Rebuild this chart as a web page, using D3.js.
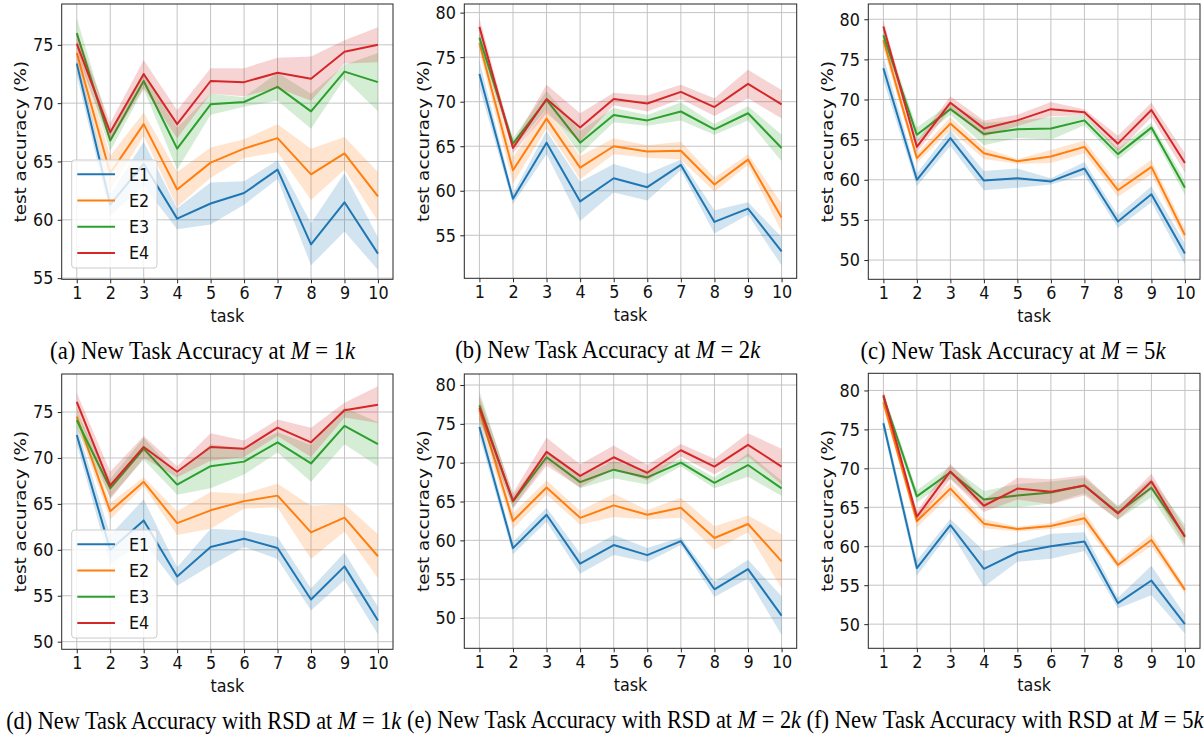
<!DOCTYPE html>
<html>
<head>
<meta charset="utf-8">
<script src="https://cdn.jsdelivr.net/npm/d3@7"></script>
<style>
  html, body { margin: 0; padding: 0; background: #fff; }
  svg { display: block; }
  .tall { transform-box: fill-box; transform-origin: center; transform: scaleY(1.13); }
</style>
</head>
<body>
<svg id="fig" width="1204" height="736"></svg>
<script>
// ---- data -------------------------------------------------------------
const tasks = [1, 2, 3, 4, 5, 6, 7, 8, 9, 10];
const seriesNames = ["E1", "E2", "E3", "E4"];
const seriesColors = ["#1f77b4", "#ff7f0e", "#2ca02c", "#d62728"];

// mean accuracy per task (rows: E1..E4) and half-width of the shaded band
const accA = [
  [73.4, 61.3, 64.8, 60.1, 61.4, 62.3, 64.3, 57.9, 61.5, 57.1],
  [74.3, 64.0, 68.2, 62.6, 64.9, 66.1, 67.0, 63.9, 65.7, 62.0],
  [76.0, 66.8, 71.9, 66.1, 69.9, 70.1, 71.4, 69.3, 72.7, 71.8],
  [75.1, 67.5, 72.5, 68.2, 71.9, 71.8, 72.6, 72.1, 74.4, 75.0]];
const sdA = [
  [1.0, 0.9, 1.9, 0.9, 1.8, 1.0, 0.8, 1.8, 2.5, 1.4],
  [0.8, 1.5, 1.0, 1.5, 1.3, 0.8, 1.2, 2.2, 1.4, 2.1],
  [1.3, 0.9, 0.7, 1.8, 0.9, 0.4, 1.2, 1.5, 0.6, 2.5],
  [1.0, 0.8, 1.2, 1.2, 1.1, 1.2, 1.3, 1.9, 1.0, 1.5]];

const accB = [
  [73.1, 59.1, 65.4, 58.8, 61.4, 60.4, 62.9, 56.5, 58.0, 53.2],
  [76.6, 62.3, 68.1, 62.6, 65.0, 64.4, 64.5, 60.7, 63.5, 57.0],
  [77.2, 65.3, 70.2, 65.4, 68.5, 67.9, 68.9, 66.9, 68.7, 64.8],
  [78.4, 64.8, 70.3, 67.1, 70.3, 69.8, 71.1, 69.4, 72.0, 69.7]];
const sdB = [
  [1.5, 0.6, 1.3, 2.2, 1.6, 1.5, 0.6, 1.3, 0.7, 1.6],
  [1.0, 1.5, 1.1, 1.3, 0.9, 0.7, 1.0, 0.8, 0.6, 1.6],
  [1.0, 0.6, 1.0, 1.3, 0.8, 0.6, 1.0, 0.6, 0.8, 1.5],
  [1.0, 0.6, 1.6, 1.6, 0.7, 0.9, 0.8, 1.0, 1.6, 1.6]];

const accC = [
  [73.9, 60.0, 65.2, 59.9, 60.2, 59.8, 61.4, 54.8, 58.2, 50.8],
  [77.4, 62.7, 67.0, 63.3, 62.3, 62.9, 64.1, 58.7, 61.6, 53.1],
  [78.0, 65.6, 68.8, 65.7, 66.3, 66.4, 67.4, 63.2, 66.5, 59.0],
  [79.1, 64.1, 69.6, 66.4, 67.4, 68.8, 68.4, 64.5, 68.7, 62.1]];
const sdC = [
  [1.5, 0.8, 1.0, 1.2, 1.2, 0.4, 0.8, 0.8, 1.0, 1.3],
  [1.0, 0.6, 0.8, 0.7, 0.3, 0.8, 0.8, 0.8, 0.9, 0.8],
  [0.8, 0.9, 0.7, 1.4, 1.1, 1.4, 0.6, 0.7, 0.6, 0.9],
  [0.8, 0.7, 0.8, 1.0, 0.7, 0.9, 0.4, 1.0, 0.9, 1.2]];

const accD = [
  [72.5, 60.0, 63.2, 57.1, 60.3, 61.2, 60.2, 54.6, 58.2, 52.3],
  [74.5, 64.2, 67.4, 62.9, 64.3, 65.3, 65.9, 61.9, 63.5, 59.3],
  [74.1, 66.7, 71.0, 67.1, 69.1, 69.6, 71.7, 69.4, 73.5, 71.5],
  [76.1, 67.0, 71.2, 68.5, 71.2, 71.0, 73.3, 71.7, 75.2, 75.8]];
const sdD = [
  [1.0, 1.6, 2.3, 1.0, 2.0, 0.9, 1.2, 1.2, 1.5, 1.5],
  [1.0, 0.9, 0.5, 1.3, 2.0, 0.8, 1.3, 2.9, 1.5, 2.4],
  [0.9, 1.0, 1.2, 1.1, 2.4, 1.4, 1.1, 2.0, 2.0, 2.4],
  [1.0, 1.5, 1.2, 0.6, 1.5, 0.9, 0.9, 1.6, 0.8, 2.0]];

const accE = [
  [74.6, 59.0, 63.3, 57.0, 59.4, 58.1, 59.9, 53.7, 56.3, 50.3],
  [76.8, 62.5, 66.8, 62.9, 64.5, 63.3, 64.2, 60.3, 62.1, 57.3],
  [77.4, 65.0, 70.7, 67.5, 69.1, 68.1, 70.0, 67.4, 69.7, 66.7],
  [77.1, 65.1, 71.4, 68.3, 70.7, 68.7, 71.6, 69.5, 72.3, 69.5]];
const sdE = [
  [1.2, 0.8, 0.9, 1.3, 1.3, 0.9, 0.5, 1.0, 1.2, 2.5],
  [1.5, 1.0, 0.9, 0.9, 1.5, 0.6, 1.3, 1.5, 1.1, 3.5],
  [1.8, 0.8, 0.6, 0.8, 1.1, 0.9, 0.5, 0.7, 1.5, 1.0],
  [1.5, 1.0, 1.8, 1.5, 1.5, 1.0, 0.8, 1.0, 1.5, 2.3]];

const accF = [
  [75.8, 57.2, 62.7, 57.1, 59.2, 60.0, 60.6, 52.7, 55.6, 50.0],
  [78.5, 63.2, 67.4, 62.9, 62.2, 62.6, 63.6, 57.6, 60.8, 54.4],
  [79.2, 66.4, 69.5, 66.0, 66.5, 66.9, 67.8, 64.3, 67.5, 61.3],
  [79.4, 63.8, 69.6, 65.2, 67.4, 67.0, 67.8, 64.2, 68.3, 61.2]];
const sdF = [
  [0.8, 1.0, 0.8, 2.3, 1.2, 1.6, 1.2, 0.7, 1.9, 1.2],
  [0.6, 0.8, 0.8, 0.6, 0.3, 0.4, 0.8, 0.5, 0.8, 0.5],
  [0.6, 0.8, 0.8, 1.1, 1.5, 1.4, 1.0, 0.9, 1.2, 1.5],
  [0.6, 0.7, 1.0, 0.8, 1.4, 1.6, 1.3, 0.8, 1.0, 1.0]];

// y tick labels per panel
const yTicksA = [55, 60, 65, 70, 75];
const yTicksB = [55, 60, 65, 70, 75, 80];
const yTicksC = [50, 55, 60, 65, 70, 75, 80];
const yTicksD = [50, 55, 60, 65, 70, 75];
const yTicksE = [50, 55, 60, 65, 70, 75, 80];
const yTicksF = [50, 55, 60, 65, 70, 75, 80];

// sub-figure captions: prefix text and the memory size in M = ?k
const captionText = [
  "(a) New Task Accuracy at", "(b) New Task Accuracy at", "(c) New Task Accuracy at",
  "(d) New Task Accuracy with RSD at", "(e) New Task Accuracy with RSD at", "(f) New Task Accuracy with RSD at"];
const memorySize = ["1", "2", "5", "1", "2", "5"];

// ---- layout ------------------------------------------------------------
const frames = [
  { left: 61.7,  right: 393,    top: 4,     bottom: 279.3, yDom: [54.9, 78.5],  capX: 202.6, capW: 305 },
  { left: 464.3, right: 796.7,  top: 4,     bottom: 278.3, yDom: [50.17, 80.97], capX: 607.7, capW: 305 },
  { left: 868.3, right: 1200,   top: 4,     bottom: 279.3, yDom: [47.6, 81.9],  capX: 1013,  capW: 305 },
  { left: 61.7,  right: 393,    top: 374,   bottom: 649.3, yDom: [49.17, 79.14], capX: 203.7, capW: 395 },
  { left: 464.3, right: 796.7,  top: 374,   bottom: 648.3, yDom: [46.1, 81.42], capX: 604,   capW: 394 },
  { left: 868.3, right: 1200,   top: 373.3, bottom: 648.3, yDom: [46.9, 82.2],  capX: 1005,  capW: 397 }];

const panels = [
  { acc: accA, sd: sdA, yTicks: yTicksA, legend: true },
  { acc: accB, sd: sdB, yTicks: yTicksB, legend: false },
  { acc: accC, sd: sdC, yTicks: yTicksC, legend: false },
  { acc: accD, sd: sdD, yTicks: yTicksD, legend: true },
  { acc: accE, sd: sdE, yTicks: yTicksE, legend: false },
  { acc: accF, sd: sdF, yTicks: yTicksF, legend: false }];

const sansFont = "'DejaVu Sans', sans-serif";
const serifFont = "'Liberation Serif', 'Times New Roman', serif";
const svg = d3.select("#fig");

panels.forEach((p, i) => {
  const f = frames[i];
  const x = d3.scaleLinear().domain([0.55, 10.45]).range([f.left, f.right]);
  const y = d3.scaleLinear().domain(f.yDom).range([f.bottom, f.top]);
  const g = svg.append("g");

  const clipId = "clip" + i;
  g.append("clipPath").attr("id", clipId)
    .append("rect").attr("x", f.left).attr("y", f.top)
    .attr("width", f.right - f.left).attr("height", f.bottom - f.top);

  // grid
  const grid = g.append("g").attr("stroke", "#c4c4c4").attr("stroke-width", 1);
  grid.selectAll("line.vx").data(tasks).join("line")
    .attr("x1", d => x(d)).attr("x2", d => x(d))
    .attr("y1", f.top).attr("y2", f.bottom);
  grid.selectAll("line.hy").data(p.yTicks).join("line")
    .attr("x1", f.left).attr("x2", f.right)
    .attr("y1", d => y(d)).attr("y2", d => y(d));

  // bands and mean lines
  const plot = g.append("g").attr("clip-path", `url(#${clipId})`);
  seriesNames.forEach((name, s) => {
    const rows = tasks.map((t, k) => ({ t, m: p.acc[s][k], e: p.sd[s][k] }));
    plot.append("path").datum(rows)
      .attr("fill", "none").attr("stroke", seriesColors[s]).attr("stroke-width", 2)
      .attr("stroke-linejoin", "round")
      .attr("d", d3.line().x(d => x(d.t)).y(d => y(d.m)));
    plot.append("path").datum(rows)
      .attr("fill", seriesColors[s]).attr("fill-opacity", 0.2).attr("stroke", "none")
      .attr("d", d3.area().x(d => x(d.t)).y0(d => y(d.m - d.e)).y1(d => y(d.m + d.e)));
  });

  // axes
  const xAxis = g.append("g").attr("transform", `translate(0,${f.bottom})`)
    .call(d3.axisBottom(x).tickValues(tasks).tickSize(4).tickPadding(4));
  const yAxis = g.append("g").attr("transform", `translate(${f.left},0)`)
    .call(d3.axisLeft(y).tickValues(p.yTicks).tickSize(4).tickPadding(4.4));
  [xAxis, yAxis].forEach(a => {
    a.select(".domain").remove();
    a.selectAll(".tick line").attr("stroke", "#262626").attr("stroke-width", 1);
    a.selectAll(".tick text").attr("class", "tall")
      .style("font-family", sansFont).style("font-size", "16px").attr("fill", "#111");
  });

  // frame
  g.append("rect").attr("x", f.left).attr("y", f.top)
    .attr("width", f.right - f.left).attr("height", f.bottom - f.top)
    .attr("fill", "none").attr("stroke", "#262626").attr("stroke-width", 1);

  // axis titles
  g.append("text").attr("class", "tall")
    .attr("x", (f.left + f.right) / 2).attr("y", f.bottom + 41.5)
    .attr("text-anchor", "middle")
    .style("font-family", sansFont).style("font-size", "16px").attr("fill", "#111")
    .text("task");
  g.append("text")
    .attr("transform", `translate(${f.left - 41},${(f.top + f.bottom) / 2}) scale(1,1.15) rotate(-90)`)
    .attr("text-anchor", "middle").attr("dy", "0.35em")
    .style("font-family", sansFont).style("font-size", "16px").attr("fill", "#111")
    .text("test accuracy (%)");

  // legend
  if (p.legend) {
    const lx = f.left + 10, ly = f.top + 156;
    const lg = g.append("g");
    lg.append("rect").attr("x", lx).attr("y", ly).attr("width", 85.3).attr("height", 108)
      .attr("rx", 3).attr("fill", "#fff").attr("fill-opacity", 0.8)
      .attr("stroke", "#cccccc").attr("stroke-width", 1);
    seriesNames.forEach((name, s) => {
      const yy = ly + 14.3 + s * 26.2;
      lg.append("line").attr("x1", lx + 5.6).attr("x2", lx + 43.3)
        .attr("y1", yy).attr("y2", yy)
        .attr("stroke", seriesColors[s]).attr("stroke-width", 2);
      lg.append("text").attr("class", "tall")
        .attr("x", lx + 57.3).attr("y", yy + 5.8)
        .style("font-family", sansFont).style("font-size", "16px").attr("fill", "#111")
        .text(name);
    });
  }

  // caption
  const cap = svg.append("text").attr("class", "tall")
    .attr("x", f.capX).attr("y", f.bottom + 78.5)
    .attr("text-anchor", "middle")
    .attr("textLength", f.capW).attr("lengthAdjust", "spacingAndGlyphs")
    .style("font-family", serifFont).style("font-size", "21.5px").attr("fill", "#000");
  cap.append("tspan").text(captionText[i] + " ");
  cap.append("tspan").style("font-style", "italic").text("M");
  cap.append("tspan").text(" = " + memorySize[i]);
  cap.append("tspan").style("font-style", "italic").text("k");
});
</script>
</body>
</html>
